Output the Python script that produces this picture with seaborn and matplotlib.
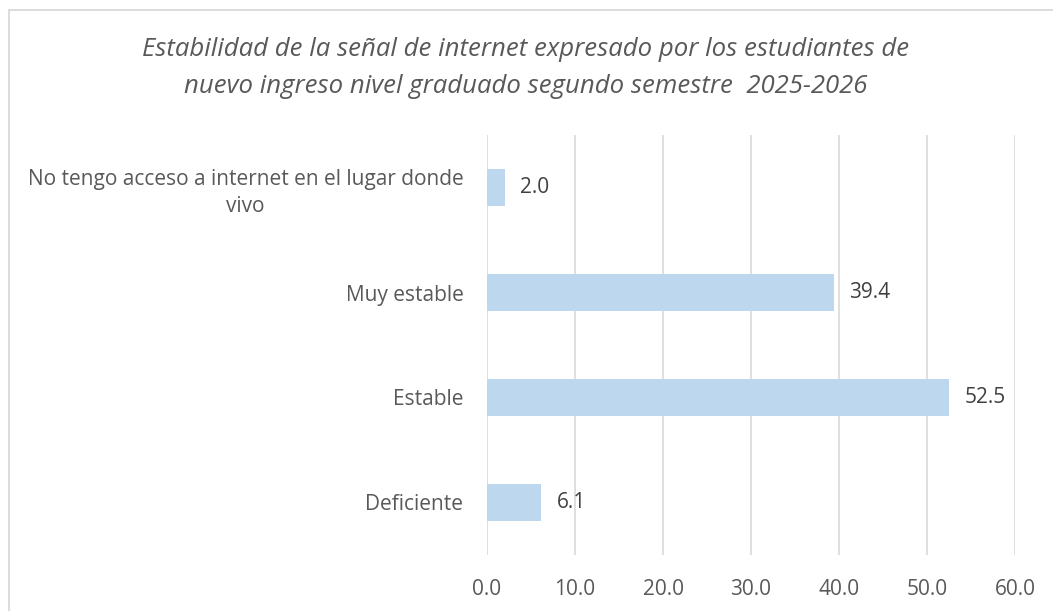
import pandas as pd
import seaborn as sns
import matplotlib.pyplot as plt
from matplotlib.lines import Line2D

categorias = ["No tengo acceso a internet en el lugar donde\nvivo",
              "Muy estable", "Estable", "Deficiente"]
porcentajes = [2.0, 39.4, 52.5, 6.1]
ticks_x = [0, 10, 20, 30, 40, 50, 60]
titulo = ("Estabilidad de la señal de internet expresado por los estudiantes de\n"
          "nuevo ingreso nivel graduado segundo semestre  2025-2026")

df = pd.DataFrame({"categoria": categorias, "valor": porcentajes})

sns.set_theme(style="white")
plt.rcParams['font.family'] = ['Open Sans', 'DejaVu Sans']

fig = plt.figure(figsize=(10.53, 6.11), dpi=100)
ax = fig.add_axes([0.4625, 0.0917, 0.5014, 0.6873])

sns.barplot(data=df, x="valor", y="categoria", orient="h", color="#BDD7EE",
            saturation=1, width=0.35, linewidth=0, ax=ax, zorder=3)

ax.set_xlim(0, 60)
ax.set_xticks(ticks_x)
ax.set_xticklabels([f"{t:.1f}" for t in ticks_x], fontsize=15, color="#595959")
ax.tick_params(axis="x", length=0, pad=17)
ax.tick_params(axis="y", length=0, pad=17, labelsize=15, labelcolor="#595959")
for lab in ax.get_yticklabels():
    lab.set_multialignment("center")
    lab.set_linespacing(1.35)
ax.grid(axis="x", color="#D9D9D9", linewidth=1.2, zorder=0)
ax.set_xlabel("")
ax.set_ylabel("")
for s in ax.spines.values():
    s.set_visible(False)

for i, v in enumerate(porcentajes):
    ax.text(v + 1.8, i, f"{v:.1f}", va="center", ha="left",
            fontsize=15, color="#404040")

fig.text(0.4995, 0.889, titulo, ha="center", va="center", fontsize=18.5,
         style="italic", color="#595959", linespacing=1.6)

# chart border (only top and left visible in the crop)
fig.add_artist(Line2D([8.5 / 1053, 1], [1 - 9.5 / 611] * 2, color="#D9D9D9",
                      linewidth=1.3, transform=fig.transFigure))
fig.add_artist(Line2D([8.5 / 1053] * 2, [0, 1 - 9.5 / 611], color="#D9D9D9",
                      linewidth=1.3, transform=fig.transFigure))

fig.savefig("out.png", dpi=100)
